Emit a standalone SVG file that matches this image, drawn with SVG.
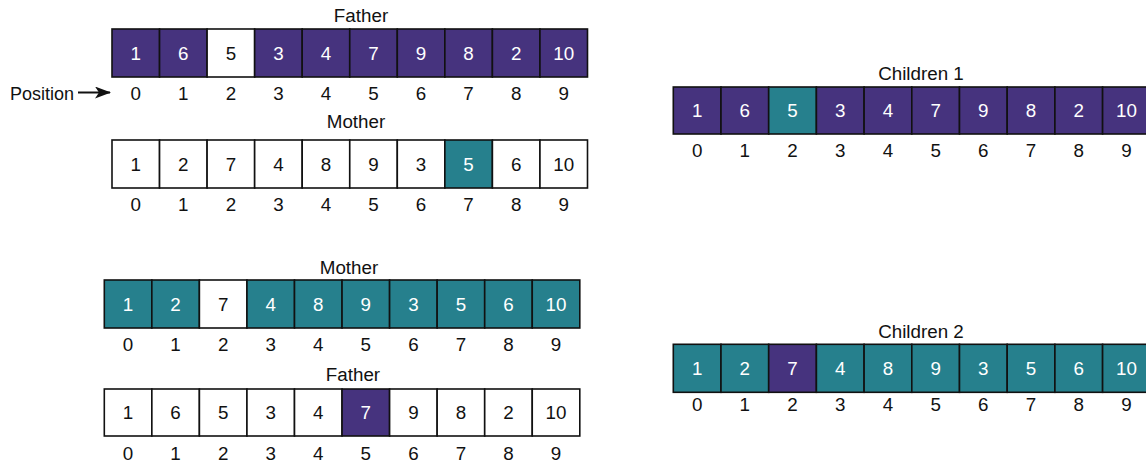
<svg xmlns="http://www.w3.org/2000/svg" width="1146" height="466" viewBox="0 0 1146 466">
<defs>
<style>
text{font-family:"Liberation Sans",Arial,sans-serif;font-size:18.8px;text-anchor:middle}
.c{stroke:#111111;stroke-width:1.6}
.p{fill:#46337e}
.t{fill:#26808d}
.wf{fill:#ffffff}
.lt{fill:#ffffff}
.dk{fill:#111111}
.lbl{fill:#111111}
</style>
<marker id="ah" viewBox="0 0 16 12" refX="15" refY="6" markerWidth="16" markerHeight="12" markerUnits="userSpaceOnUse" orient="auto">
<path d="M0,0 L16,6 L0,12 L4,6 Z" fill="#111111"/>
</marker>
</defs>
<rect width="1146" height="466" fill="#ffffff"/>

<g id="father-top" transform="translate(112,29)">
<text class="lbl" x="249" y="-7">Father</text>
<g class="c">
<rect class="p" x="0" y="0" width="47.55" height="48"/>
<rect class="p" x="47.55" y="0" width="47.55" height="48"/>
<rect class="wf" x="95.1" y="0" width="47.55" height="48"/>
<rect class="p" x="142.65" y="0" width="47.55" height="48"/>
<rect class="p" x="190.2" y="0" width="47.55" height="48"/>
<rect class="p" x="237.75" y="0" width="47.55" height="48"/>
<rect class="p" x="285.3" y="0" width="47.55" height="48"/>
<rect class="p" x="332.85" y="0" width="47.55" height="48"/>
<rect class="p" x="380.4" y="0" width="47.55" height="48"/>
<rect class="p" x="427.95" y="0" width="47.55" height="48"/>
</g>
<text class="lt" x="23.8" y="30.7">1</text>
<text class="lt" x="71.3" y="30.7">6</text>
<text class="dk" x="118.9" y="30.7">5</text>
<text class="lt" x="166.4" y="30.7">3</text>
<text class="lt" x="214" y="30.7">4</text>
<text class="lt" x="261.5" y="30.7">7</text>
<text class="lt" x="309.1" y="30.7">9</text>
<text class="lt" x="356.6" y="30.7">8</text>
<text class="lt" x="404.2" y="30.7">2</text>
<text class="lt" x="451.7" y="30.7">10</text>
<text class="lbl" x="23.8" y="71">0</text>
<text class="lbl" x="71.3" y="71">1</text>
<text class="lbl" x="118.9" y="71">2</text>
<text class="lbl" x="166.4" y="71">3</text>
<text class="lbl" x="214" y="71">4</text>
<text class="lbl" x="261.5" y="71">5</text>
<text class="lbl" x="309.1" y="71">6</text>
<text class="lbl" x="356.6" y="71">7</text>
<text class="lbl" x="404.2" y="71">8</text>
<text class="lbl" x="451.7" y="71">9</text>
</g>

<g id="position-label">
<text class="lbl" x="10" y="99.5" style="text-anchor:start;font-size:18px">Position</text>
</g>

<g id="connectors">
<line x1="78" y1="92.5" x2="110" y2="92.5" stroke="#111111" stroke-width="2" marker-end="url(#ah)"/>
</g>

<g id="mother-top" transform="translate(112,140)">
<text class="lbl" x="244" y="-12">Mother</text>
<g class="c">
<rect class="wf" x="0" y="0" width="47.55" height="48"/>
<rect class="wf" x="47.55" y="0" width="47.55" height="48"/>
<rect class="wf" x="95.1" y="0" width="47.55" height="48"/>
<rect class="wf" x="142.65" y="0" width="47.55" height="48"/>
<rect class="wf" x="190.2" y="0" width="47.55" height="48"/>
<rect class="wf" x="237.75" y="0" width="47.55" height="48"/>
<rect class="wf" x="285.3" y="0" width="47.55" height="48"/>
<rect class="t" x="332.85" y="0" width="47.55" height="48"/>
<rect class="wf" x="380.4" y="0" width="47.55" height="48"/>
<rect class="wf" x="427.95" y="0" width="47.55" height="48"/>
</g>
<text class="dk" x="23.8" y="30.7">1</text>
<text class="dk" x="71.3" y="30.7">2</text>
<text class="dk" x="118.9" y="30.7">7</text>
<text class="dk" x="166.4" y="30.7">4</text>
<text class="dk" x="214" y="30.7">8</text>
<text class="dk" x="261.5" y="30.7">9</text>
<text class="dk" x="309.1" y="30.7">3</text>
<text class="lt" x="356.6" y="30.7">5</text>
<text class="dk" x="404.2" y="30.7">6</text>
<text class="dk" x="451.7" y="30.7">10</text>
<text class="lbl" x="23.8" y="71">0</text>
<text class="lbl" x="71.3" y="71">1</text>
<text class="lbl" x="118.9" y="71">2</text>
<text class="lbl" x="166.4" y="71">3</text>
<text class="lbl" x="214" y="71">4</text>
<text class="lbl" x="261.5" y="71">5</text>
<text class="lbl" x="309.1" y="71">6</text>
<text class="lbl" x="356.6" y="71">7</text>
<text class="lbl" x="404.2" y="71">8</text>
<text class="lbl" x="451.7" y="71">9</text>
</g>

<g id="children-1" transform="translate(673.3,87)">
<text class="lbl" x="247.7" y="-7">Children 1</text>
<g class="c">
<rect class="p" x="0" y="0" width="47.7" height="47"/>
<rect class="p" x="47.7" y="0" width="47.7" height="47"/>
<rect class="t" x="95.4" y="0" width="47.7" height="47"/>
<rect class="p" x="143.1" y="0" width="47.7" height="47"/>
<rect class="p" x="190.8" y="0" width="47.7" height="47"/>
<rect class="p" x="238.5" y="0" width="47.7" height="47"/>
<rect class="p" x="286.2" y="0" width="47.7" height="47"/>
<rect class="p" x="333.9" y="0" width="47.7" height="47"/>
<rect class="p" x="381.6" y="0" width="47.7" height="47"/>
<rect class="p" x="429.3" y="0" width="47.7" height="47"/>
</g>
<text class="lt" x="23.85" y="30.2">1</text>
<text class="lt" x="71.55" y="30.2">6</text>
<text class="lt" x="119.25" y="30.2">5</text>
<text class="lt" x="166.95" y="30.2">3</text>
<text class="lt" x="214.65" y="30.2">4</text>
<text class="lt" x="262.35" y="30.2">7</text>
<text class="lt" x="310.05" y="30.2">9</text>
<text class="lt" x="357.75" y="30.2">8</text>
<text class="lt" x="405.45" y="30.2">2</text>
<text class="lt" x="453.15" y="30.2">10</text>
<text class="lbl" x="23.85" y="69.5">0</text>
<text class="lbl" x="71.55" y="69.5">1</text>
<text class="lbl" x="119.25" y="69.5">2</text>
<text class="lbl" x="166.95" y="69.5">3</text>
<text class="lbl" x="214.65" y="69.5">4</text>
<text class="lbl" x="262.35" y="69.5">5</text>
<text class="lbl" x="310.05" y="69.5">6</text>
<text class="lbl" x="357.75" y="69.5">7</text>
<text class="lbl" x="405.45" y="69.5">8</text>
<text class="lbl" x="453.15" y="69.5">9</text>
</g>

<g id="mother-bottom" transform="translate(104.3,280)">
<text class="lbl" x="244.7" y="-6">Mother</text>
<g class="c">
<rect class="t" x="0" y="0" width="47.55" height="48"/>
<rect class="t" x="47.55" y="0" width="47.55" height="48"/>
<rect class="wf" x="95.1" y="0" width="47.55" height="48"/>
<rect class="t" x="142.65" y="0" width="47.55" height="48"/>
<rect class="t" x="190.2" y="0" width="47.55" height="48"/>
<rect class="t" x="237.75" y="0" width="47.55" height="48"/>
<rect class="t" x="285.3" y="0" width="47.55" height="48"/>
<rect class="t" x="332.85" y="0" width="47.55" height="48"/>
<rect class="t" x="380.4" y="0" width="47.55" height="48"/>
<rect class="t" x="427.95" y="0" width="47.55" height="48"/>
</g>
<text class="lt" x="23.8" y="30.7">1</text>
<text class="lt" x="71.3" y="30.7">2</text>
<text class="dk" x="118.9" y="30.7">7</text>
<text class="lt" x="166.4" y="30.7">4</text>
<text class="lt" x="214" y="30.7">8</text>
<text class="lt" x="261.5" y="30.7">9</text>
<text class="lt" x="309.1" y="30.7">3</text>
<text class="lt" x="356.6" y="30.7">5</text>
<text class="lt" x="404.2" y="30.7">6</text>
<text class="lt" x="451.7" y="30.7">10</text>
<text class="lbl" x="23.8" y="71">0</text>
<text class="lbl" x="71.3" y="71">1</text>
<text class="lbl" x="118.9" y="71">2</text>
<text class="lbl" x="166.4" y="71">3</text>
<text class="lbl" x="214" y="71">4</text>
<text class="lbl" x="261.5" y="71">5</text>
<text class="lbl" x="309.1" y="71">6</text>
<text class="lbl" x="356.6" y="71">7</text>
<text class="lbl" x="404.2" y="71">8</text>
<text class="lbl" x="451.7" y="71">9</text>
</g>

<g id="father-bottom" transform="translate(104.3,389)">
<text class="lbl" x="248.7" y="-8">Father</text>
<g class="c">
<rect class="wf" x="0" y="0" width="47.55" height="47"/>
<rect class="wf" x="47.55" y="0" width="47.55" height="47"/>
<rect class="wf" x="95.1" y="0" width="47.55" height="47"/>
<rect class="wf" x="142.65" y="0" width="47.55" height="47"/>
<rect class="wf" x="190.2" y="0" width="47.55" height="47"/>
<rect class="p" x="237.75" y="0" width="47.55" height="47"/>
<rect class="wf" x="285.3" y="0" width="47.55" height="47"/>
<rect class="wf" x="332.85" y="0" width="47.55" height="47"/>
<rect class="wf" x="380.4" y="0" width="47.55" height="47"/>
<rect class="wf" x="427.95" y="0" width="47.55" height="47"/>
</g>
<text class="dk" x="23.8" y="30.2">1</text>
<text class="dk" x="71.3" y="30.2">6</text>
<text class="dk" x="118.9" y="30.2">5</text>
<text class="dk" x="166.4" y="30.2">3</text>
<text class="dk" x="214" y="30.2">4</text>
<text class="lt" x="261.5" y="30.2">7</text>
<text class="dk" x="309.1" y="30.2">9</text>
<text class="dk" x="356.6" y="30.2">8</text>
<text class="dk" x="404.2" y="30.2">2</text>
<text class="dk" x="451.7" y="30.2">10</text>
<text class="lbl" x="23.8" y="71">0</text>
<text class="lbl" x="71.3" y="71">1</text>
<text class="lbl" x="118.9" y="71">2</text>
<text class="lbl" x="166.4" y="71">3</text>
<text class="lbl" x="214" y="71">4</text>
<text class="lbl" x="261.5" y="71">5</text>
<text class="lbl" x="309.1" y="71">6</text>
<text class="lbl" x="356.6" y="71">7</text>
<text class="lbl" x="404.2" y="71">8</text>
<text class="lbl" x="451.7" y="71">9</text>
</g>

<g id="children-2" transform="translate(673.3,344.3)">
<text class="lbl" x="247.7" y="-6.3">Children 2</text>
<g class="c">
<rect class="t" x="0" y="0" width="47.7" height="48"/>
<rect class="t" x="47.7" y="0" width="47.7" height="48"/>
<rect class="p" x="95.4" y="0" width="47.7" height="48"/>
<rect class="t" x="143.1" y="0" width="47.7" height="48"/>
<rect class="t" x="190.8" y="0" width="47.7" height="48"/>
<rect class="t" x="238.5" y="0" width="47.7" height="48"/>
<rect class="t" x="286.2" y="0" width="47.7" height="48"/>
<rect class="t" x="333.9" y="0" width="47.7" height="48"/>
<rect class="t" x="381.6" y="0" width="47.7" height="48"/>
<rect class="t" x="429.3" y="0" width="47.7" height="48"/>
</g>
<text class="lt" x="23.85" y="30.7">1</text>
<text class="lt" x="71.55" y="30.7">2</text>
<text class="lt" x="119.25" y="30.7">7</text>
<text class="lt" x="166.95" y="30.7">4</text>
<text class="lt" x="214.65" y="30.7">8</text>
<text class="lt" x="262.35" y="30.7">9</text>
<text class="lt" x="310.05" y="30.7">3</text>
<text class="lt" x="357.75" y="30.7">5</text>
<text class="lt" x="405.45" y="30.7">6</text>
<text class="lt" x="453.15" y="30.7">10</text>
<text class="lbl" x="23.85" y="67.2">0</text>
<text class="lbl" x="71.55" y="67.2">1</text>
<text class="lbl" x="119.25" y="67.2">2</text>
<text class="lbl" x="166.95" y="67.2">3</text>
<text class="lbl" x="214.65" y="67.2">4</text>
<text class="lbl" x="262.35" y="67.2">5</text>
<text class="lbl" x="310.05" y="67.2">6</text>
<text class="lbl" x="357.75" y="67.2">7</text>
<text class="lbl" x="405.45" y="67.2">8</text>
<text class="lbl" x="453.15" y="67.2">9</text>
</g>
</svg>
